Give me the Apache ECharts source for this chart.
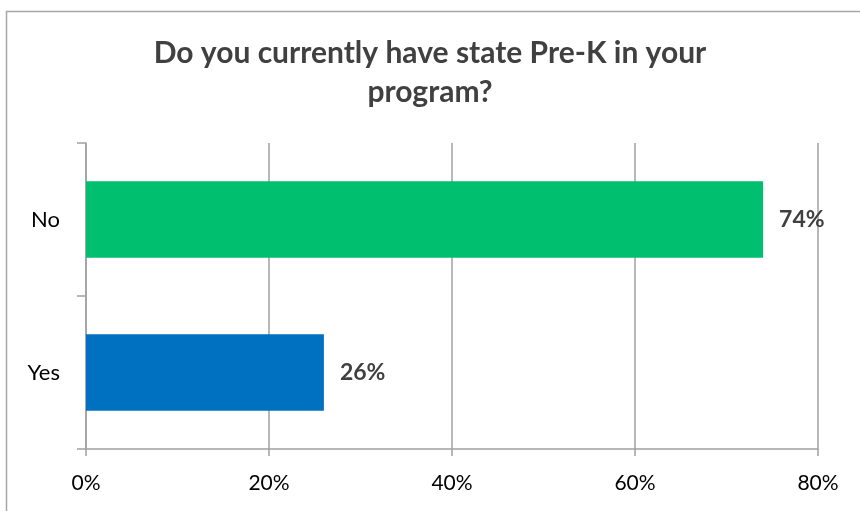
<!DOCTYPE html>
<html>
<head>
<meta charset="utf-8">
<title>Do you currently have state Pre-K in your program?</title>
<script src="https://cdn.jsdelivr.net/npm/echarts@6/dist/echarts.min.js"></script>
<style>
  html, body { margin: 0; padding: 0; background: #ffffff; }
  #chart { width: 860px; height: 511px; }
</style>
</head>
<body>
<div id="chart"></div>
<script>
// Survey answers, bottom to top on the category axis
const categories = ['Yes', 'No'];
const shares = [26, 74];
const barColors = ['#0070C0', '#00BF6F'];
const xTicks = [0, 20, 40, 60, 80];

const chart = echarts.init(document.getElementById('chart'), null, { renderer: 'canvas' });

const FONT = 'Lato, "Open Sans", sans-serif';

chart.setOption({
  backgroundColor: '#ffffff',
  animation: false,
  graphic: [{
    type: 'rect',
    shape: { x: 6.5, y: 11.5, width: 900, height: 600 },
    style: { fill: 'none', stroke: '#A6A6A6', lineWidth: 1.5 },
    silent: true
  }],
  title: {
    text: 'Do you currently have state Pre-K in your\nprogram?',
    left: 'center',
    top: 29,
    textStyle: {
      fontFamily: FONT,
      fontWeight: 'bold',
      fontSize: 30,
      color: '#404040',
      lineHeight: 39
    }
  },
  grid: { left: 86, right: 42, top: 143, bottom: 62, containLabel: false },
  xAxis: {
    type: 'value',
    min: xTicks[0],
    max: xTicks[xTicks.length - 1],
    interval: 20,
    axisLine: { show: true, lineStyle: { color: '#A0A0A0', width: 1.5 } },
    axisTick: { show: true, length: 7, lineStyle: { color: '#A0A0A0', width: 1.5 } },
    splitLine: { show: true, lineStyle: { color: '#A0A0A0', width: 1.5 } },
    axisLabel: {
      margin: 24,
      fontFamily: FONT,
      fontSize: 21,
      color: '#000000',
      formatter: v => v + '%'
    }
  },
  yAxis: {
    type: 'category',
    data: categories,
    axisLine: { show: true, lineStyle: { color: '#A0A0A0', width: 1.5 } },
    axisTick: { show: true, length: 9, lineStyle: { color: '#A0A0A0', width: 1.5 } },
    splitLine: { show: false },
    axisLabel: {
      margin: 26,
      fontFamily: FONT,
      fontSize: 22,
      color: '#000000'
    }
  },
  series: [{
    type: 'bar',
    data: shares.map((v, i) => ({ value: v, itemStyle: { color: barColors[i] } })),
    barCategoryGap: '50%',
    label: {
      show: true,
      position: 'right',
      distance: 16,
      fontFamily: FONT,
      fontWeight: 'bold',
      fontSize: 23,
      color: '#404040',
      formatter: p => p.value + '%'
    }
  }]
});
</script>
</body>
</html>
